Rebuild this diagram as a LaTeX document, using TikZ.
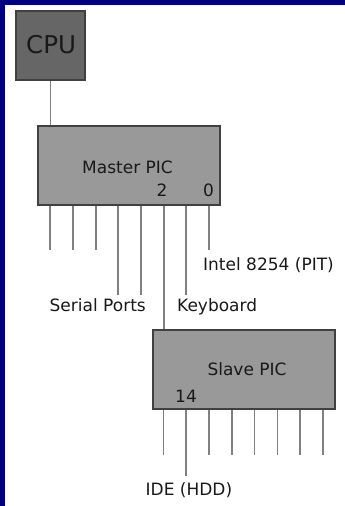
\documentclass[tikz,border=0pt]{standalone}
\usepackage{fontspec}
\setmainfont{DejaVu Sans}
\begin{document}
\begin{tikzpicture}[x=1pt,y=-1pt,
  chip/.style={draw=black!75,line width=1.2pt,fill=black!40,inner sep=0pt,minimum width=182pt,minimum height=79pt},
  cpubox/.style={draw=black!75,line width=1.2pt,fill=black!60,inner sep=0pt,minimum width=69pt,minimum height=69pt},
  pin/.style={draw=black!50,line width=1.9pt},
  lbl/.style={font=\fontsize{17}{19}\selectfont,text=black!90,inner sep=0pt,anchor=base west}]
\useasboundingbox (0,0) rectangle (345,506);
\fill[fill={rgb,255:red,0;green,0;blue,128}] (0,0) rectangle (345,506);
\fill[white] (5,5) rectangle (345,506);
% CPU
\node[cpubox] (cpu) at (50.5,45.5) {};
\node[lbl,font=\fontsize{24.5}{26}\selectfont] (cput) at (26,53.3) {CPU};
% Master
\node[chip] (m) at (129,165.5) {};
\draw[pin] (cpu.south) -- (cpu.south |- m.north);
\node[lbl] (mt) at (82,173.3) {Master PIC};
\node[lbl] (m2) at (156.5,196) {2};
\node[lbl] (m0) at (203,196) {0};
% Slave
\node[chip] (s) at (244,369.5) {};
\node[lbl] (st) at (207.3,375) {Slave PIC};
\node[lbl] (s14) at (175,402) {14};
% master pins
\foreach \i/\x/\y in {1/50/250,2/73/250,3/96/250,4/118/295,5/141/295,7/186/295,8/209/250}
  {\coordinate (mp\i) at (\x,\y);
   \draw[pin] (m.south -| mp\i) -- (mp\i);}
\coordinate (mp6) at (164,330);
\draw[pin] (m.south -| mp6) -- (s.north -| mp6);
% slave pins
\foreach \i/\x/\y in {1/163.5/455,2/186/476,3/209/455,4/232/455,5/254.5/455,6/277.5/455,7/300/455,8/323/455}
  {\coordinate (sp\i) at (\x,\y);
   \draw[pin] (s.south -| sp\i) -- (sp\i);}
% labels
\node[lbl] (pit) at (203,270) {Intel 8254 (PIT)};
\node[lbl] (ser) at (49.5,311.7) {Serial Ports};
\node[lbl] (kbd) at (177,311.7) {Keyboard};
\node[lbl] (ide) at (145.5,495.7) {IDE (HDD)};
\end{tikzpicture}
\end{document}
